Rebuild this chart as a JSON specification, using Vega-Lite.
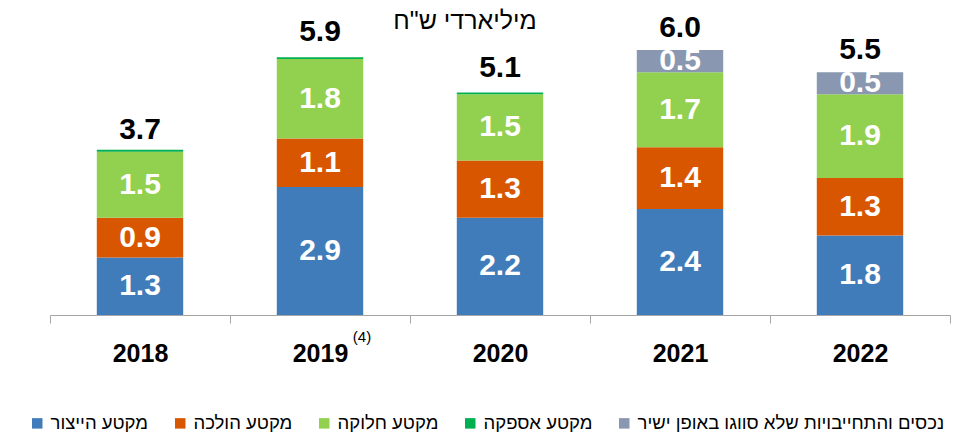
{
  "$schema": "https://vega.github.io/schema/vega-lite/v6.json",
  "width": 900,
  "height": 287,
  "autosize": "none",
  "padding": {"left": 50, "top": 28, "right": 9, "bottom": 122},
  "background": "white",
  "config": {
    "font": "Liberation Sans",
    "view": {"stroke": null}
  },
  "title": {
    "text": "מיליארדי ש\"ח",
    "fontSize": 25,
    "fontWeight": "normal",
    "font": "Liberation Sans",
    "color": "#000000",
    "anchor": "middle",
    "frame": "group",
    "dx": -35,
    "offset": -21
  },
  "datasets": {
    "segments": [
      {"year": "2018", "segment": "מקטע הייצור", "order": 1, "value": 1.3},
      {"year": "2018", "segment": "מקטע הולכה", "order": 2, "value": 0.9},
      {"year": "2018", "segment": "מקטע חלוקה", "order": 3, "value": 1.5},
      {"year": "2018", "segment": "מקטע אספקה", "order": 4, "value": 0.04},
      {"year": "2019", "segment": "מקטע הייצור", "order": 1, "value": 2.9},
      {"year": "2019", "segment": "מקטע הולכה", "order": 2, "value": 1.1},
      {"year": "2019", "segment": "מקטע חלוקה", "order": 3, "value": 1.8},
      {"year": "2019", "segment": "מקטע אספקה", "order": 4, "value": 0.04},
      {"year": "2020", "segment": "מקטע הייצור", "order": 1, "value": 2.2},
      {"year": "2020", "segment": "מקטע הולכה", "order": 2, "value": 1.3},
      {"year": "2020", "segment": "מקטע חלוקה", "order": 3, "value": 1.5},
      {"year": "2020", "segment": "מקטע אספקה", "order": 4, "value": 0.04},
      {"year": "2021", "segment": "מקטע הייצור", "order": 1, "value": 2.4},
      {"year": "2021", "segment": "מקטע הולכה", "order": 2, "value": 1.4},
      {"year": "2021", "segment": "מקטע חלוקה", "order": 3, "value": 1.7},
      {"year": "2021", "segment": "נכסים והתחייבויות שלא סווגו באופן ישיר", "order": 5, "value": 0.5},
      {"year": "2022", "segment": "מקטע הייצור", "order": 1, "value": 1.8},
      {"year": "2022", "segment": "מקטע הולכה", "order": 2, "value": 1.3},
      {"year": "2022", "segment": "מקטע חלוקה", "order": 3, "value": 1.9},
      {"year": "2022", "segment": "נכסים והתחייבויות שלא סווגו באופן ישיר", "order": 5, "value": 0.5}
    ],
    "totals": [
      {"year": "2018", "total": 3.7},
      {"year": "2019", "total": 5.9},
      {"year": "2020", "total": 5.1},
      {"year": "2021", "total": 6.0},
      {"year": "2022", "total": 5.5}
    ],
    "notes": [
      {"year": "2019", "note": "(4)"}
    ]
  },
  "layer": [
    {
      "data": {"name": "segments"},
      "transform": [
        {"stack": "value", "groupby": ["year"], "sort": [{"field": "order"}], "as": ["v0", "v1"]}
      ],
      "mark": {"type": "bar", "width": {"band": 0.48}},
      "encoding": {
        "x": {
          "field": "year",
          "type": "nominal",
          "title": null,
          "scale": {"paddingInner": 0, "paddingOuter": 0},
          "axis": {
            "orient": "bottom",
            "tickBand": "extent",
            "labelAngle": 0,
            "labelFontSize": 25,
            "labelFontWeight": "bold",
            "labelColor": "#000000",
            "labelPadding": 18,
            "domainColor": "#a6a6a6",
            "tickColor": "#a6a6a6",
            "tickSize": 8
          }
        },
        "y": {
          "field": "v0",
          "type": "quantitative",
          "scale": {"domain": [0, 6.5], "nice": false},
          "axis": null
        },
        "y2": {"field": "v1"},
        "color": {
          "field": "segment",
          "type": "nominal",
          "scale": {
            "domain": ["מקטע הייצור", "מקטע הולכה", "מקטע חלוקה", "מקטע אספקה", "נכסים והתחייבויות שלא סווגו באופן ישיר"],
            "range": ["#417cba", "#d95600", "#92d050", "#00b050", "#8a97b0"]
          },
          "legend": {
            "title": null,
            "orient": "none",
            "direction": "horizontal",
            "legendX": -22,
            "legendY": 386,
            "symbolType": "square",
            "symbolSize": 110,
            "symbolStrokeWidth": 0,
            "labelFontSize": 18.5,
            "labelColor": "#000000",
            "labelOffset": 4,
            "labelLimit": 500,
            "columnPadding": 22
          }
        }
      }
    },
    {
      "data": {"name": "segments"},
      "transform": [
        {"stack": "value", "groupby": ["year"], "sort": [{"field": "order"}], "as": ["v0", "v1"]},
        {"filter": "datum.value >= 0.2"},
        {"calculate": "(datum.v0 + datum.v1) / 2", "as": "mid"}
      ],
      "mark": {"type": "text", "fontSize": 30, "fontWeight": "bold", "color": "#ffffff", "baseline": "middle"},
      "encoding": {
        "x": {"field": "year", "type": "nominal"},
        "y": {"field": "mid", "type": "quantitative"},
        "text": {"field": "value", "type": "quantitative", "format": ".1f"}
      }
    },
    {
      "data": {"name": "totals"},
      "mark": {"type": "text", "fontSize": 30, "fontWeight": "bold", "color": "#000000", "baseline": "alphabetic", "dy": -13},
      "encoding": {
        "x": {"field": "year", "type": "nominal"},
        "y": {"field": "total", "type": "quantitative"},
        "text": {"field": "total", "type": "quantitative", "format": ".1f"}
      }
    },
    {
      "data": {"name": "notes"},
      "mark": {"type": "text", "fontSize": 15, "fontWeight": "normal", "color": "#000000", "baseline": "middle", "dx": 42, "dy": 22},
      "encoding": {
        "x": {"field": "year", "type": "nominal"},
        "y": {"datum": 0},
        "text": {"field": "note"}
      }
    }
  ]
}
